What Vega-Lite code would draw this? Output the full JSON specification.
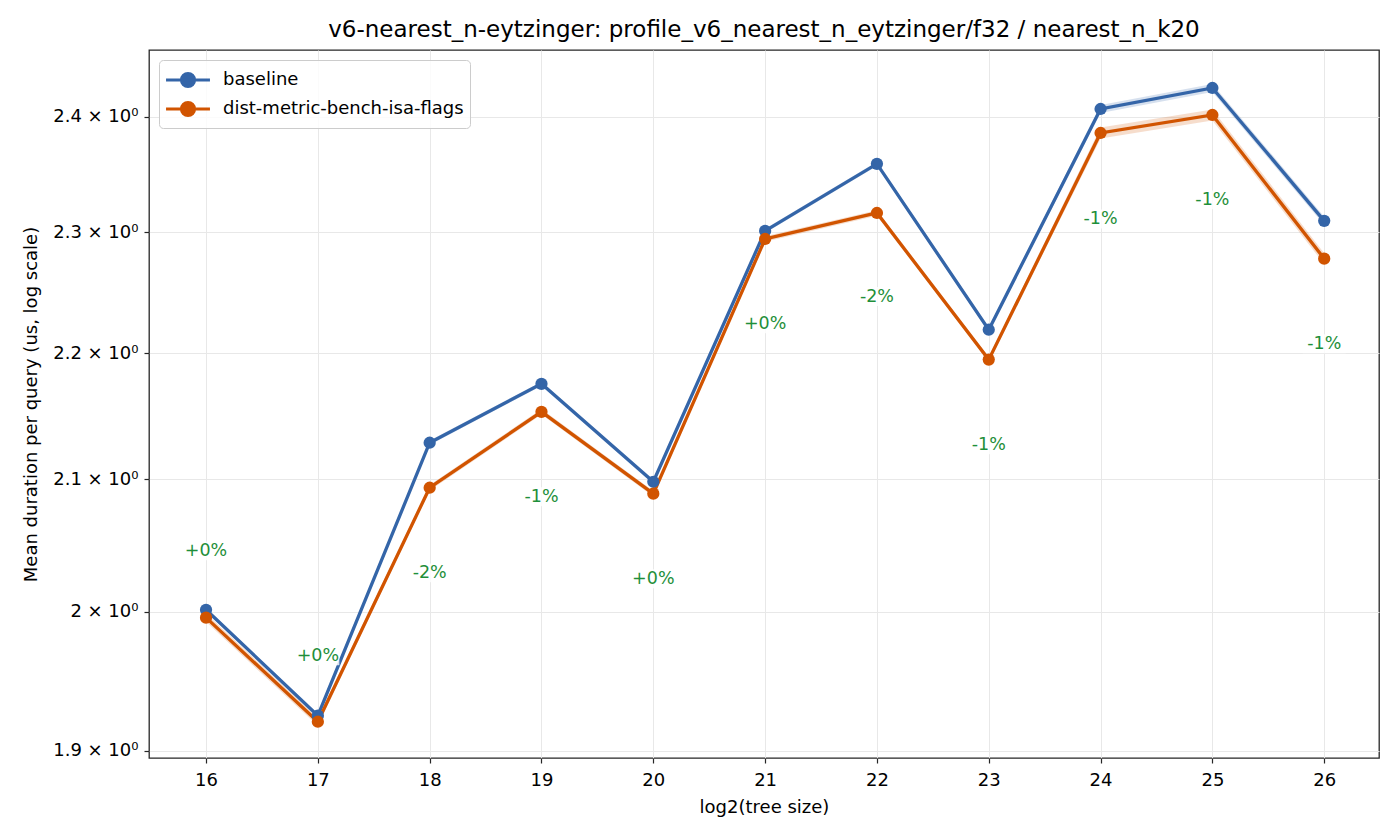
{
  "$schema": "https://vega.github.io/schema/vega-lite/v6.json",
  "width": 1230,
  "height": 708,
  "autosize": {"type": "none"},
  "padding": {"left": 149, "top": 50, "right": 21, "bottom": 82},
  "background": "white",
  "config": {
    "font": "DejaVu Sans",
    "view": {"stroke": "#262626", "strokeWidth": 1.3},
    "axis": {
      "labelFont": "DejaVu Sans",
      "titleFont": "DejaVu Sans",
      "labelFontSize": 18,
      "titleFontSize": 18,
      "titleFontWeight": "normal",
      "labelColor": "#000",
      "titleColor": "#000",
      "domain": false,
      "tickColor": "#262626",
      "tickSize": 5,
      "tickWidth": 1.2,
      "gridColor": "#e8e8e8",
      "gridWidth": 1
    }
  },
  "title": {
    "text": "v6-nearest_n-eytzinger: profile_v6_nearest_n_eytzinger/f32 / nearest_n_k20",
    "font": "DejaVu Sans",
    "fontSize": 23,
    "fontWeight": "normal",
    "color": "#000",
    "anchor": "middle",
    "offset": 8
  },
  "datasets": {
    "timings": [
      {"tree": 16, "series": "baseline", "mean": 2.0014, "lo": 1.9998, "hi": 2.0030},
      {"tree": 17, "series": "baseline", "mean": 1.9248, "lo": 1.9233, "hi": 1.9263},
      {"tree": 18, "series": "baseline", "mean": 2.1285, "lo": 2.1268, "hi": 2.1302},
      {"tree": 19, "series": "baseline", "mean": 2.1752, "lo": 2.1735, "hi": 2.1769},
      {"tree": 20, "series": "baseline", "mean": 2.0981, "lo": 2.0964, "hi": 2.0998},
      {"tree": 21, "series": "baseline", "mean": 2.3013, "lo": 2.2995, "hi": 2.3031},
      {"tree": 22, "series": "baseline", "mean": 2.3589, "lo": 2.3570, "hi": 2.3608},
      {"tree": 23, "series": "baseline", "mean": 2.2190, "lo": 2.2172, "hi": 2.2208},
      {"tree": 24, "series": "baseline", "mean": 2.4071, "lo": 2.4035, "hi": 2.4107},
      {"tree": 25, "series": "baseline", "mean": 2.4258, "lo": 2.4222, "hi": 2.4294},
      {"tree": 26, "series": "baseline", "mean": 2.3099, "lo": 2.3064, "hi": 2.3134},
      {"tree": 16, "series": "dist-metric-bench-isa-flags", "mean": 1.9956, "lo": 1.9926, "hi": 1.9986},
      {"tree": 17, "series": "dist-metric-bench-isa-flags", "mean": 1.9205, "lo": 1.9176, "hi": 1.9234},
      {"tree": 18, "series": "dist-metric-bench-isa-flags", "mean": 2.0935, "lo": 2.0914, "hi": 2.0956},
      {"tree": 19, "series": "dist-metric-bench-isa-flags", "mean": 2.1529, "lo": 2.1507, "hi": 2.1551},
      {"tree": 20, "series": "dist-metric-bench-isa-flags", "mean": 2.0889, "lo": 2.0868, "hi": 2.0910},
      {"tree": 21, "series": "dist-metric-bench-isa-flags", "mean": 2.2945, "lo": 2.2922, "hi": 2.2968},
      {"tree": 22, "series": "dist-metric-bench-isa-flags", "mean": 2.3166, "lo": 2.3143, "hi": 2.3189},
      {"tree": 23, "series": "dist-metric-bench-isa-flags", "mean": 2.1947, "lo": 2.1925, "hi": 2.1969},
      {"tree": 24, "series": "dist-metric-bench-isa-flags", "mean": 2.3859, "lo": 2.3811, "hi": 2.3907},
      {"tree": 25, "series": "dist-metric-bench-isa-flags", "mean": 2.4018, "lo": 2.3970, "hi": 2.4066},
      {"tree": 26, "series": "dist-metric-bench-isa-flags", "mean": 2.2779, "lo": 2.2733, "hi": 2.2825}
    ],
    "deltas": [
      {"tree": 16, "label": "+0%", "at": 2.0453},
      {"tree": 17, "label": "+0%", "at": 1.9677},
      {"tree": 18, "label": "-2%", "at": 2.0288},
      {"tree": 19, "label": "-1%", "at": 2.0866},
      {"tree": 20, "label": "+0%", "at": 2.0244},
      {"tree": 21, "label": "+0%", "at": 2.2239},
      {"tree": 22, "label": "-2%", "at": 2.2463},
      {"tree": 23, "label": "-1%", "at": 2.1268},
      {"tree": 24, "label": "-1%", "at": 2.3115},
      {"tree": 25, "label": "-1%", "at": 2.3278},
      {"tree": 26, "label": "-1%", "at": 2.2076}
    ]
  },
  "encoding": {
    "x": {
      "field": "tree",
      "type": "quantitative",
      "title": "log2(tree size)",
      "scale": {"domain": [15.49, 26.49], "nice": false, "zero": false},
      "axis": {
        "values": [16, 17, 18, 19, 20, 21, 22, 23, 24, 25, 26],
        "labelPadding": 8,
        "titlePadding": 9
      }
    },
    "color": {
      "field": "series",
      "type": "nominal",
      "title": null,
      "scale": {
        "domain": ["baseline", "dist-metric-bench-isa-flags"],
        "range": ["#3465a8", "#d15400"]
      },
      "legend": {
        "orient": "top-left",
        "offset": 10,
        "symbolType": "M-1.83,0L1.83,0M-0.54,0A0.54,0.54,0,1,1,0.54,0A0.54,0.54,0,1,1,-0.54,0Z",
        "symbolSize": 576,
        "symbolOffset": 9,
        "symbolStrokeWidth": 3.2,
        "symbolOpacity": 1,
        "labelFont": "DejaVu Sans",
        "labelFontSize": 18,
        "labelColor": "#000",
        "labelLimit": 600,
        "labelOffset": 21,
        "padding": 6,
        "rowPadding": 2,
        "strokeColor": "#cccccc",
        "fillColor": "rgba(255,255,255,0.8)",
        "cornerRadius": 4,
        "encode": {
          "symbols": {
            "update": {
              "fill": {"scale": "color", "field": "value"},
              "stroke": {"scale": "color", "field": "value"},
              "opacity": {"value": 1}
            }
          }
        }
      }
    }
  },
  "layer": [
    {
      "data": {"name": "timings"},
      "mark": {"type": "area", "opacity": 0.2},
      "encoding": {
        "y": {
          "field": "lo",
          "type": "quantitative",
          "scale": {"type": "log", "domain": [1.895, 2.46], "nice": false, "zero": false},
          "title": "Mean duration per query (us, log scale)",
          "axis": {
            "values": [1.9, 2.0, 2.1, 2.2, 2.3, 2.4],
            "labelExpr": "(abs(datum.value - 2) < 1e-9 ? '2' : format(datum.value, '.1f')) + ' × 10⁰'",
            "labelPadding": 6,
            "titlePadding": 12
          }
        },
        "y2": {"field": "hi"}
      }
    },
    {
      "data": {"name": "timings"},
      "mark": {"type": "line", "strokeWidth": 3.3},
      "encoding": {
        "y": {"field": "mean", "type": "quantitative"}
      }
    },
    {
      "data": {"name": "timings"},
      "mark": {"type": "point", "filled": true, "size": 150, "opacity": 1},
      "encoding": {
        "y": {"field": "mean", "type": "quantitative"}
      }
    },
    {
      "data": {"name": "deltas"},
      "mark": {
        "type": "point",
        "shape": "M-1,-0.44L1,-0.44L1,0.44L-1,0.44Z",
        "size": 1850,
        "filled": true,
        "opacity": 0.8
      },
      "encoding": {
        "y": {"field": "at", "type": "quantitative"},
        "color": {"value": "white"}
      }
    },
    {
      "data": {"name": "deltas"},
      "mark": {
        "type": "text",
        "font": "DejaVu Sans",
        "fontSize": 17.5,
        "align": "center",
        "baseline": "middle"
      },
      "encoding": {
        "y": {"field": "at", "type": "quantitative"},
        "text": {"field": "label"},
        "color": {"value": "#1f8f3a"}
      }
    }
  ]
}
